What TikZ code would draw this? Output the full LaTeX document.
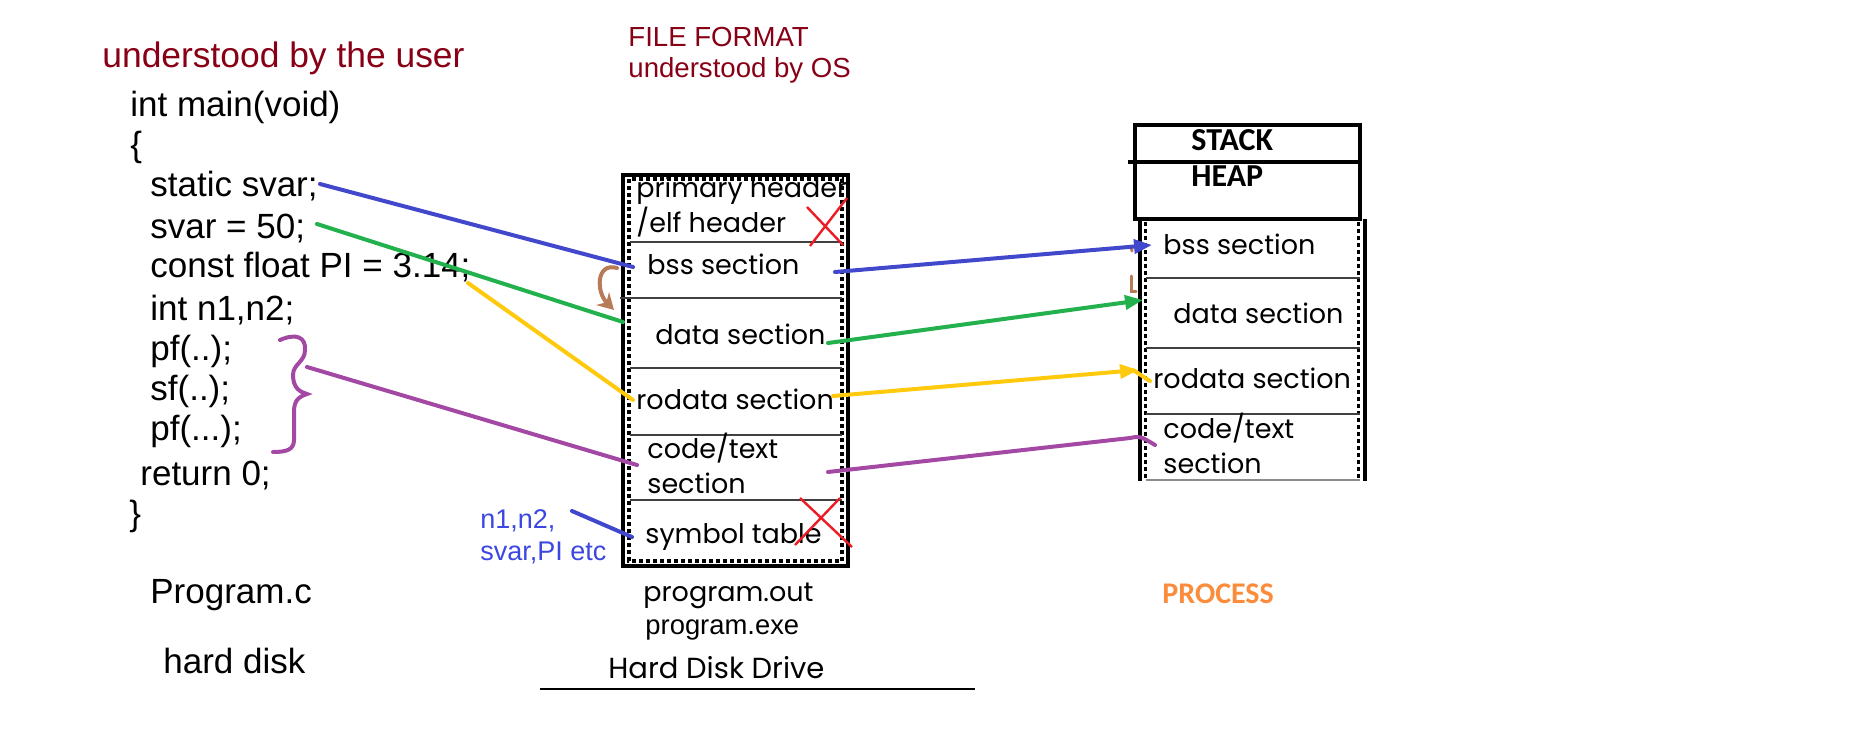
\documentclass[tikz,border=0pt]{standalone}
\usepackage{fontspec}
\setmainfont{Liberation Sans}
\newfontfamily\rndfont{Poppins}
\newfontfamily\calfont{Carlito}
\usetikzlibrary{arrows.meta}
\definecolor{dred}{RGB}{136,0,21}
\definecolor{lblue}{RGB}{66,72,204}
\definecolor{lgreen}{RGB}{34,177,76}
\definecolor{lyellow}{RGB}{255,201,14}
\definecolor{lpurple}{RGB}{163,73,164}
\definecolor{lbrown}{RGB}{185,122,87}
\definecolor{lred}{RGB}{237,28,36}
\definecolor{lorange}{RGB}{250,140,60}
\definecolor{tblue}{RGB}{60,70,225}
\begin{document}
\begin{tikzpicture}[x=0.5pt,y=-0.5pt,
  codetxt/.style={anchor=base west, inner sep=0, font=\fontsize{17.5}{20}\selectfont},
  sectxt/.style={anchor=base west, inner sep=0, font=\rndfont\fontsize{13.5}{16}\selectfont},
  redtxt/.style={anchor=base west, inner sep=0, text=dred, font=\fontsize{13.8}{16}\selectfont},
  boldtxt/.style={anchor=base west, inner sep=0, font=\calfont\bfseries\fontsize{16}{19}\selectfont},
  conn/.style={line width=2pt, line cap=round},
  divline/.style={line width=0.8pt, draw=black!75},
  outerline/.style={line width=2pt, draw=black},
  dashline/.style={line width=1.6pt, draw=black, dash pattern=on 2pt off 1.5pt},
  tip/.style={-{Triangle[length=9pt,width=7pt]}},
  cross/.style={line width=1.2pt, draw=lred}
]
\useasboundingbox (0,0) rectangle (1850,743);

% ---------- left: source code ----------
\node[anchor=base west, inner sep=0, text=dred, font=\fontsize{17.7}{20}\selectfont] (user) at (102,68) {understood by the user};
\node[codetxt] (l1) at (130,117) {int main(void)};
\node[codetxt] (l2) at (130,157) {\{};
\node[codetxt] (l3) at (150,197) {static svar;};
\node[codetxt] (l4) at (150,238) {svar = 50;};
\node[codetxt] (l5) at (150,278) {const float PI = 3.14;};
\node[codetxt] (l6) at (150,320) {int n1,n2;};
\node[codetxt] (l7) at (150,360) {pf(..);};
\node[codetxt] (l8) at (150,400) {sf(..);};
\node[codetxt] (l9) at (150,440) {pf(...);};
\node[codetxt] (l10) at (140,485) {return 0;};
\node[codetxt] (l11) at (129,525) {\}};
\node[codetxt] (progc) at (150,603) {Program.c};
\node[codetxt] (hd) at (163,673) {hard disk};

% ---------- middle: file format ----------
\node[redtxt] (ff1) at (628,47) {FILE FORMAT};
\node[redtxt] (ff2) at (628,78) {understood by OS};

\draw[outerline] (623,175) rectangle (848,566);
\draw[dashline] (629,179) rectangle (842,561);
\draw[divline] (630,242) -- (842,242);
\draw[divline, line width=1pt] (620,298) -- (842,298);
\draw[divline] (630,368) -- (842,368);
\draw[divline, line width=1pt] (630,435) -- (842,435);
\draw[divline] (630,500) -- (842,500);

\node[sectxt] (ph) at (636,198) {primary header};
\node[sectxt] (eh) at (636,233) {/elf header};
\node[sectxt] (mbss) at (647,274) {bss section};
\node[sectxt] (mdata) at (655,344) {data section};
\node[sectxt] (mro) at (636,409) {rodata section};
\node[sectxt] (mcode) at (647,458) {code/text};
\node[sectxt] (mcode2) at (647,493) {section};
\node[sectxt] (msym) at (645,543) {symbol table};

\node[anchor=base west, inner sep=0, font=\rndfont\fontsize{13.5}{16}\selectfont] (pout) at (643,601) {program.out};
\node[anchor=base west, inner sep=0, font=\fontsize{13.7}{16}\selectfont] (pexe) at (645,634) {program.exe};
\node[anchor=base west, inner sep=0, font=\rndfont\fontsize{14.5}{17}\selectfont] (hdd) at (608,678) {Hard Disk Drive};
\coordinate (hdl1) at (540,689);
\coordinate (hdl2) at (975,689);
\draw[line width=1.2pt] (hdl1) -- (hdl2);

% red crosses
\draw[cross] (807,207) -- (843,245);
\draw[cross] (810,246) -- (847,198);
\draw[cross] (800,498) -- (852,547);
\draw[cross] (795,545) -- (840,498);

% symbol table note
\node[anchor=base west, inner sep=0, text=tblue, font=\fontsize{13.5}{16}\selectfont] (nn1) at (480,528) {n1,n2,};
\node[anchor=base west, inner sep=0, text=tblue, font=\fontsize{13.5}{16}\selectfont] (nn2) at (480,560) {svar,PI etc};

% ---------- right: process ----------
\draw[outerline] (1135,125) rectangle (1360,219);
\draw[outerline] (1128,162) -- (1360,162);
\node[boldtxt] (stack) at (1191,151) {STACK};
\node[boldtxt] (heap) at (1191,187) {HEAP};

\draw[outerline] (1140,219) -- (1140,481);
\draw[outerline] (1365,219) -- (1365,481);
\draw[dashline] (1145.5,222) -- (1145.5,481);
\draw[dashline] (1358.5,222) -- (1358.5,481);
\draw[divline] (1146,278) -- (1360,278);
\draw[divline] (1146,348) -- (1360,348);
\draw[divline] (1146,414) -- (1360,414);
\draw[line width=0.8pt, draw=black!45] (1146,480) -- (1360,480);

\node[sectxt] (pbss) at (1163,254) {bss section};
\node[sectxt] (pdata) at (1173,323) {data section};
\node[sectxt] (pro) at (1153,388) {rodata section};
\node[sectxt] (pcode) at (1163,438) {code/text};
\node[sectxt] (pcode2) at (1163,473) {section};

\node[anchor=base west, inner sep=0, text=lorange, font=\calfont\bfseries\fontsize{15}{18}\selectfont] (proc) at (1162,603) {PROCESS};

% ---------- connectors: source -> file ----------
\coordinate (a1) at (320,184);  \coordinate (b1) at (633,267);
\coordinate (a2) at (317,224);  \coordinate (b2) at (623,322);
\coordinate (a3) at (468,283);  \coordinate (b3) at (633,400);
\coordinate (a4) at (307,367);  \coordinate (b4) at (637,465);
\coordinate (a5) at (572,511);  \coordinate (b5) at (632,537);
\draw[conn, lblue] (a1) -- (b1);
\draw[conn, lgreen] (a2) -- (b2);
\draw[conn, lyellow] (a3) -- (b3);
\draw[conn, lpurple] (a4) -- (b4);
\draw[conn, lblue] (a5) -- (b5);

% purple brace
\draw[conn, lpurple] (280,340) .. controls (296,333) and (306,337) .. (305,350)
  .. controls (305,362) and (293,364) .. (293,375)
  .. controls (293,388) and (300,392) .. (307,394)
  .. controls (298,397) and (294,401) .. (294,412)
  -- (294,440) .. controls (294,450) and (286,452) .. (273,452);

% brown curved arrow
\coordinate (br1) at (617,268);
\coordinate (br2) at (614,310);
\draw[conn, lbrown, line width=2pt, -{Stealth[length=8pt,width=9pt]}] (br1) .. controls (596,262) and (596,292) .. (br2);
\draw[conn, lbrown, line width=1.5pt] (1131,246) -- (1132,251);
\draw[conn, lbrown, line width=1.5pt] (1131,276) -- (1131,291) -- (1136,291);

% ---------- connectors: file -> process ----------
\coordinate (c1) at (835,272);  \coordinate (d1) at (1152,245);
\coordinate (c2) at (828,343);  \coordinate (d2) at (1143,300);
\coordinate (c3) at (833,396);  \coordinate (d3) at (1138,370);
\coordinate (e3) at (1150,381);
\coordinate (c4) at (828,472);  \coordinate (d4) at (1130,438);
\coordinate (e4) at (1155,445);
\draw[conn, lblue, tip] (c1) -- (d1);
\draw[conn, lgreen, tip] (c2) -- (d2);
\draw[conn, lyellow, tip] (c3) -- (d3);
\draw[conn, lyellow] (1133,370) -- (e3);
\draw[conn, lpurple] (c4) -- (d4) .. controls (1140,436) .. (e4);
\end{tikzpicture}
\end{document}
